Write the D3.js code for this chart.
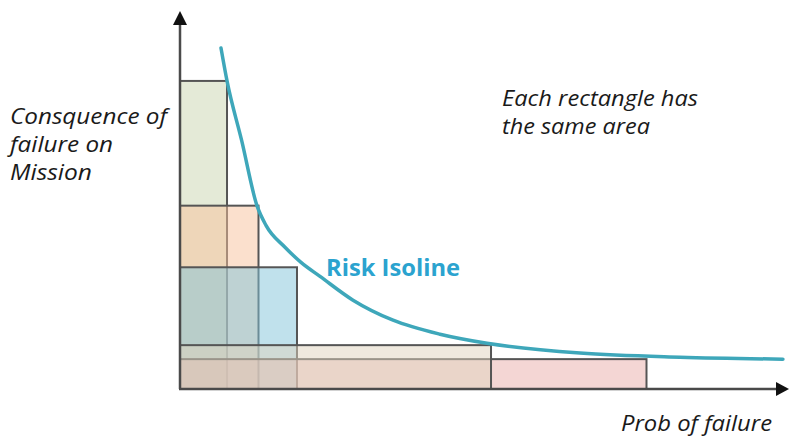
<!DOCTYPE html>
<html>
<head>
<meta charset="utf-8">
<script src="https://cdn.jsdelivr.net/npm/d3@7"></script>
<style>
  html, body { margin: 0; padding: 0; background: #ffffff; }
  svg { display: block; }
</style>
</head>
<body>
<svg id="chart" width="790" height="439"></svg>
<script>
// ---- data ----
// rectangles (equal-area), drawn bottom to top in this order
const rectNames = ["green", "orange", "blue", "pink", "tan"];
const rectProb = [7.72, 12.89, 19.21, 76.6, 51.07];   // width in probability units
const rectCons = [81.5, 48.5, 32.2, 7.9, 11.6];       // height in consequence units
const rectColors = ["#c9d5b0", "#f7c29b", "#82c3da", "#eaadaa", "#e0d4bd"];

// risk isoline points
const isoProb = [6.73, 7.72, 10.13, 12.64, 14.12, 17.24, 19.87, 22.99, 28.41, 34.98, 42.69, 50.41, 65.68, 82.10, 99.0];
const isoCons = [90.2, 81.5, 65.7, 48.5, 43.3, 37.5, 33.5, 29.8, 23.5, 18.2, 14.5, 12.1, 9.5, 8.4, 7.9];

const yLabelLines = ["Consquence of", "failure on", "Mission"];
const yLabelWidths = [157, 103, 82];
const noteLines = ["Each rectangle has", "the same area"];
const noteWidths = [196, 148];
const xLabel = "Prob of failure";
const curveLabel = "Risk Isoline";

// ---- drawing ----
const svg = d3.select("#chart");
const x = d3.scaleLinear().domain([0, 100]).range([180, 789]);
const y = d3.scaleLinear().domain([0, 100]).range([389, 11]);

const rects = rectNames.map((n, i) => ({ name: n, p: rectProb[i], c: rectCons[i], color: rectColors[i] }));

svg.append("g").selectAll("rect").data(rects).join("rect")
  .attr("x", x(0))
  .attr("y", d => y(d.c))
  .attr("width", d => x(d.p) - x(0))
  .attr("height", d => y(0) - y(d.c))
  .attr("fill", d => d.color)
  .attr("fill-opacity", 0.5)
  .attr("stroke", "#555555")
  .attr("stroke-width", 2);

// axes
const axisColor = "#4a4a4a";
svg.append("line")
  .attr("x1", x(0)).attr("y1", y(0))
  .attr("x2", x(0)).attr("y2", y(100) + 12)
  .attr("stroke", axisColor).attr("stroke-width", 2.5);
svg.append("path")
  .attr("d", `M${x(0)},${y(100)} L${x(0) - 7},${y(100) + 14} L${x(0) + 7},${y(100) + 14} Z`)
  .attr("fill", "#111");
svg.append("line")
  .attr("x1", x(0) - 1).attr("y1", y(0))
  .attr("x2", x(100) - 11).attr("y2", y(0))
  .attr("stroke", axisColor).attr("stroke-width", 2.5);
svg.append("path")
  .attr("d", `M${x(100)},${y(0)} L${x(100) - 13},${y(0) - 7} L${x(100) - 13},${y(0) + 7} Z`)
  .attr("fill", "#111");

// isoline
const line = d3.line()
  .x((d, i) => x(isoProb[i]))
  .y((d, i) => y(isoCons[i]))
  .curve(d3.curveMonotoneX);
svg.append("path")
  .attr("d", line(isoProb))
  .attr("fill", "none")
  .attr("stroke", "#3ea7ba")
  .attr("stroke-width", 3.5)
  .attr("stroke-linecap", "round");

// texts
const font = "'Open Sans', Lato, sans-serif";
svg.append("g").selectAll("text").data(yLabelLines).join("text")
  .attr("x", 10)
  .attr("y", (d, i) => 124 + i * 28)
  .attr("font-family", font).attr("font-style", "italic")
  .attr("font-size", 21).attr("fill", "#1a1a1a")
  .attr("textLength", (d, i) => yLabelWidths[i])
  .attr("lengthAdjust", "spacingAndGlyphs")
  .text(d => d);

svg.append("g").selectAll("text").data(noteLines).join("text")
  .attr("x", 502)
  .attr("y", (d, i) => 106 + i * 28)
  .attr("font-family", font).attr("font-style", "italic")
  .attr("font-size", 21).attr("fill", "#1a1a1a")
  .attr("textLength", (d, i) => noteWidths[i])
  .attr("lengthAdjust", "spacingAndGlyphs")
  .text(d => d);

svg.append("text")
  .attr("x", 621).attr("y", 431)
  .attr("font-family", font).attr("font-style", "italic")
  .attr("font-size", 21).attr("fill", "#1a1a1a")
  .attr("textLength", 151)
  .attr("lengthAdjust", "spacingAndGlyphs")
  .text(xLabel);

svg.append("text")
  .attr("x", 326).attr("y", 276)
  .attr("font-family", font).attr("font-weight", "bold")
  .attr("font-size", 24).attr("fill", "#2ba3cf")
  .attr("textLength", 134)
  .attr("lengthAdjust", "spacingAndGlyphs")
  .text(curveLabel);
</script>
</body>
</html>
